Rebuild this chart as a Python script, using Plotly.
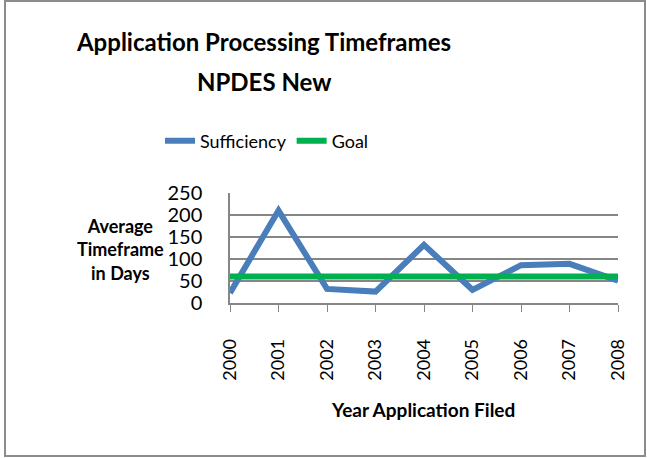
import plotly.graph_objects as go

years = ["2000", "2001", "2002", "2003", "2004", "2005", "2006", "2007", "2008"]
sufficiency = [23, 210, 32, 26, 132, 30, 86, 89, 51]
goal = [60, 60, 60, 60, 60, 60, 60, 60, 60]
y_ticks = [0, 50, 100, 150, 200, 250]

FONT = "Lato"
W, H = 647, 458
L, R, T, B = 230, 29, 193, 155
pw, ph = W - L - R, H - T - B


def px_x(p):
    return (p - L) / pw


def px_y(p):
    return (H - B - p) / ph


fig = go.Figure()
fig.add_trace(go.Scatter(x=years, y=sufficiency, mode="lines", name="Sufficiency",
                         line=dict(color="#4A7EBB", width=6)))
fig.add_trace(go.Scatter(x=years, y=goal, mode="lines", name="Goal",
                         line=dict(color="#00B050", width=6)))

fig.update_layout(
    width=W, height=H,
    margin=dict(l=L, r=R, t=T, b=B),
    paper_bgcolor="white", plot_bgcolor="white",
    font=dict(family=FONT, size=19, color="black"),
    showlegend=True,
    legend=dict(orientation="h", x=px_x(267), xanchor="center", y=px_y(141), yanchor="middle",
                yref="paper", font=dict(size=18), itemwidth=30, bgcolor="rgba(0,0,0,0)"),
    title=dict(text="<b>Application Processing Timeframes</b>",
               x=264 / W, xanchor="center", y=1 - 43 / H, yanchor="middle",
               font=dict(family=FONT, size=24, color="black")),
)

fig.update_xaxes(type="category", range=[0, 8], showgrid=False, showline=True,
                 linecolor="#868686", linewidth=1.5, ticks="outside", ticklen=7,
                 tickcolor="#868686", tickangle=-90, tickfont=dict(size=18),
                 ticklabelstandoff=20)
fig.update_yaxes(range=[0, 250], tickvals=y_ticks, showgrid=True, gridcolor="#868686",
                 gridwidth=1.5, showline=True, linecolor="#868686", linewidth=1.5,
                 zeroline=False, ticks="", tickfont=dict(size=20), ticklabelstandoff=22)

fig.add_annotation(text="<b>NPDES New</b>", xref="paper", yref="paper",
                   x=px_x(264), y=px_y(81), xanchor="center", yanchor="middle",
                   showarrow=False, font=dict(size=24))
fig.add_annotation(text="<b>Average<br>Timeframe<br>in Days</b>", xref="paper", yref="paper",
                   x=px_x(120), y=px_y(249), xanchor="center", yanchor="middle",
                   showarrow=False, align="center", font=dict(size=18))
fig.add_annotation(text="<b>Year Application Filed</b>", xref="paper", yref="paper",
                   x=px_x(423), y=px_y(409), xanchor="center", yanchor="middle",
                   showarrow=False, font=dict(size=19))

fig.add_shape(type="rect", xref="paper", yref="paper",
              x0=px_x(5), x1=px_x(645), y0=px_y(456), y1=px_y(1),
              line=dict(color="#8C8C8C", width=2))

fig.write_html("out.html", config={"displayModeBar": False},
               post_script="document.body.style.margin='0px';")
